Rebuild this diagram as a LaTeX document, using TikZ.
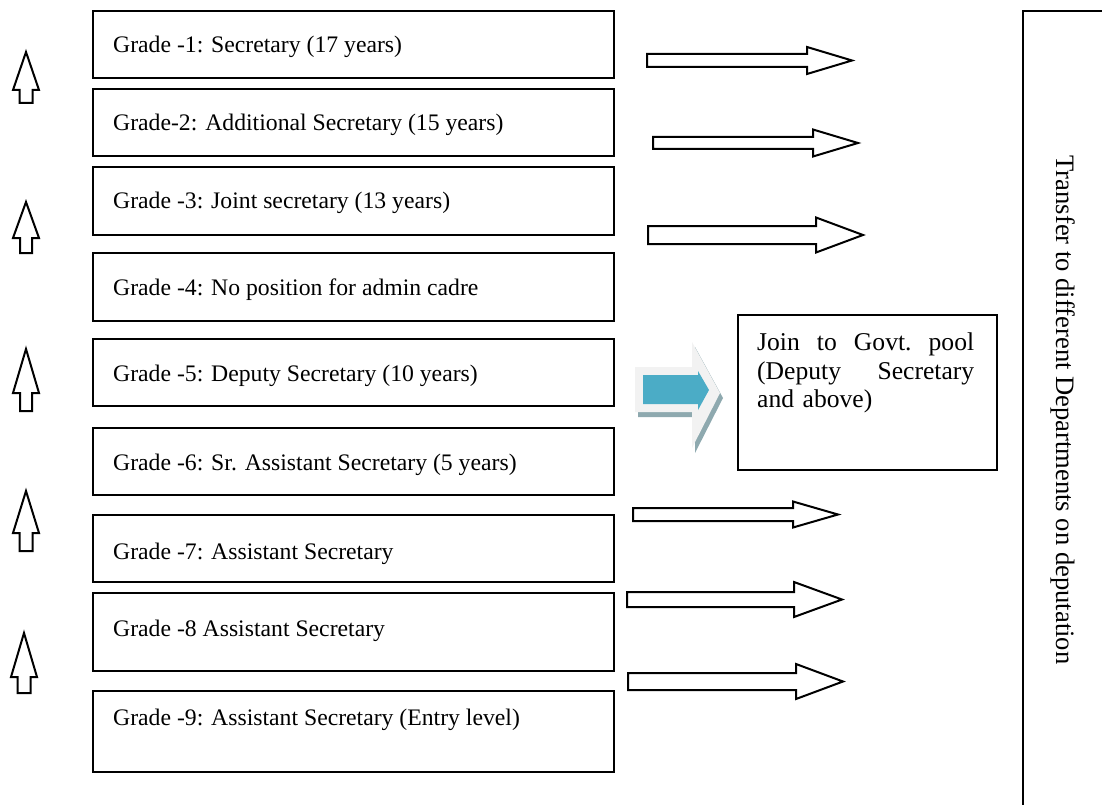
\documentclass[tikz,border=0pt]{standalone}
\usepackage{fontspec}
\setmainfont{Liberation Serif}
\definecolor{poolteal}{HTML}{4BACC6}
\definecolor{poolpale}{HTML}{F2F2F2}
\definecolor{poolshade}{HTML}{8EA9AF}

% block arrow pointing right: tail x, head base x, tip x, centre y, shaft half-height, head half-height
\newcommand\rightblock[6]{%
  \draw[blockarrow] (#1,{#4-#5}) -- (#2,{#4-#5}) -- (#2,{#4-#6}) -- (#3,#4)
    -- (#2,{#4+#6}) -- (#2,{#4+#5}) -- (#1,{#4+#5}) -- cycle;}
% block arrow pointing up: centre x, tip y, head base y, bottom y, shaft half-width, head half-width
\newcommand\upblock[6]{%
  \draw[blockarrow] ({#1-#5},#4) -- ({#1-#5},#3) -- ({#1-#6},#3) -- (#1,#2)
    -- ({#1+#6},#3) -- ({#1+#5},#3) -- ({#1+#5},#4) -- cycle;}

\begin{document}
\begin{tikzpicture}[x=1pt,y=-1pt,
  gradebox/.style={draw, line width=1.9pt, anchor=north west, inner sep=0pt, minimum width=521pt},
  gradetext/.style={anchor=base west, inner sep=0pt, font=\fontsize{23.7pt}{28pt}\selectfont},
  blockarrow/.style={draw, line width=2pt, fill=white, line join=miter},
  framebox/.style={draw, line width=1.9pt, anchor=north west, inner sep=0pt},
]
\useasboundingbox (0,0) rectangle (1102,805);
\clip (0,0) rectangle (1102,805);

% grade ladder
\foreach \i/\top/\h/\base/\txt in {
  1/10/67/53/{Grade -1: Secretary (17 years)},
  2/88/67/131/{Grade-2: Additional Secretary (15 years)},
  3/166/68/208/{Grade -3: Joint secretary (13 years)},
  4/252/68/295/{Grade -4: No position for admin cadre},
  5/338/67/381/{Grade -5: Deputy Secretary (10 years)},
  6/427/67/470/{Grade -6: Sr. Assistant Secretary (5 years)},
  7/514/67/559/{Grade -7: Assistant Secretary},
  8/592/78/636/{Grade -8 Assistant Secretary},
  9/690/81/725/{Grade -9: Assistant Secretary (Entry level)}}{
  \node[gradebox, minimum height=\h pt] (g\i) at (92,\top) {};
  \node[gradetext] (t\i) at (113,\base) {\txt};
}

% promotion arrows on the left
\upblock{26}{52}{90}{103}{6.5}{13}
\upblock{26}{202}{238}{253}{6}{13}
\upblock{26}{349}{393}{411}{6}{13}
\upblock{26}{491}{533}{551}{6.5}{13}
\upblock{24}{633}{677}{693}{6.5}{13}

% deputation arrows
\rightblock{647}{807}{852}{60.5}{6.5}{13.5}
\rightblock{653}{813}{858}{143}{6}{13.5}
\rightblock{648}{816}{863}{235}{9}{17.5}
\rightblock{633}{793}{838}{514.5}{6.5}{13}
\rightblock{627}{794}{842}{599.5}{7.5}{17.5}
\rightblock{628}{796}{843}{681.5}{8.5}{17.5}

% shaded arrow towards the government pool
\fill[poolshade] (638,372) -- (695,372) -- (695,347) -- (723,398) -- (695,453) -- (695,417) -- (638,417) -- cycle;
\fill[poolpale] (635,367) -- (692,367) -- (692,342) -- (720,393) -- (692,448) -- (692,412) -- (635,412) -- cycle;
\fill[poolteal] (643,375) -- (698,375) -- (698,371) -- (709,390) -- (698,410) -- (698,404) -- (643,404) -- cycle;

% government pool
\node[framebox, minimum width=259pt, minimum height=155pt] (pool) at (737,314) {};
\node[anchor=north west, inner sep=0pt, text width=217pt, align=left,
      font=\fontsize{25.6pt}{28.5pt}\selectfont] (pooltext) at (757,333)
  {Join\hfill to\hfill Govt.\hfill pool\\(Deputy\hfill Secretary\\and above)};

% deputation column
\node[framebox, minimum width=200pt, minimum height=900pt] (dep) at (1022,10.5) {};
\node[rotate=-90, inner sep=0pt, font=\fontsize{26.6pt}{30pt}\selectfont] (deptext) at (1063,410)
  {Transfer to different Departments on deputation};
\end{tikzpicture}
\end{document}
